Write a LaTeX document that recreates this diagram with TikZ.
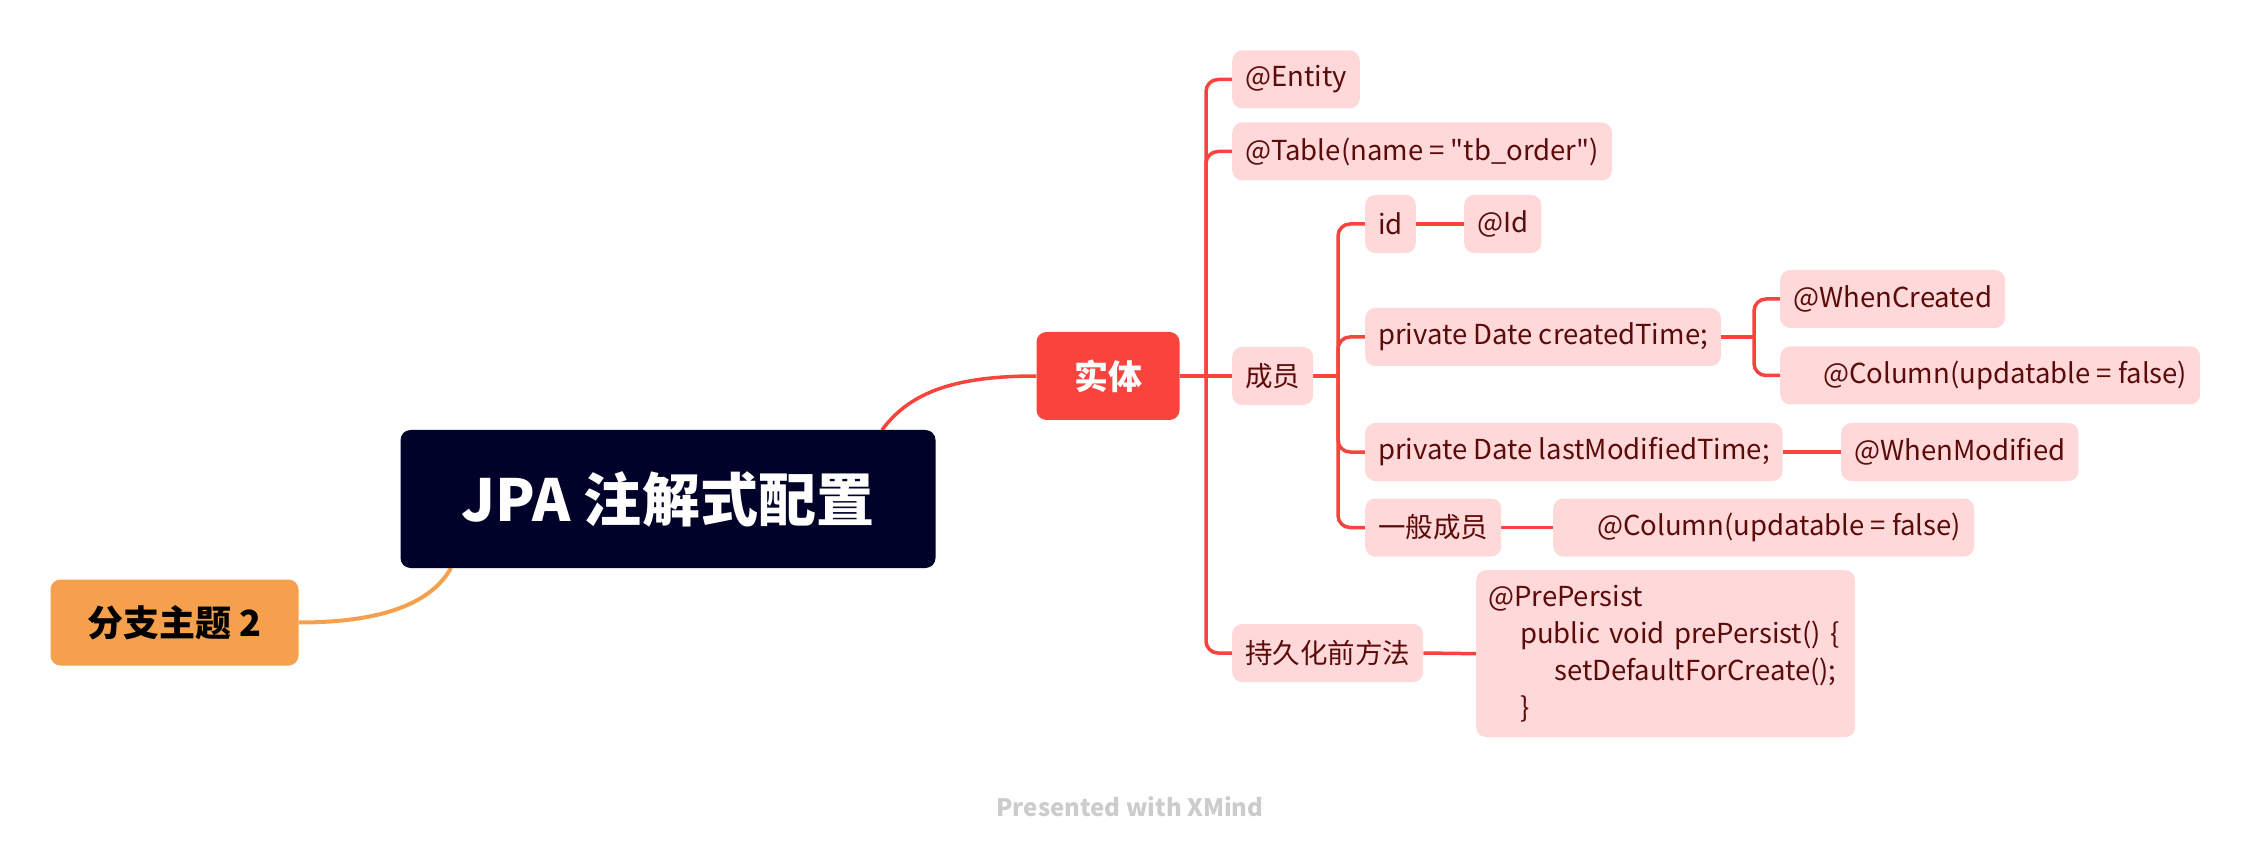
\documentclass[tikz,border=0pt]{standalone}
\usepackage{fontspec}
\setmainfont{Noto Sans CJK SC}[Ligatures=TeXOff]
\usepackage{tikz}
\usetikzlibrary{backgrounds}
\definecolor{navy}{HTML}{000229}
\definecolor{redtopic}{HTML}{F9443E}
\definecolor{orangetopic}{HTML}{F5A04C}
\definecolor{pinkbg}{HTML}{FFD9D9}
\definecolor{darkred}{HTML}{5C0B0B}
\definecolor{marktext}{HTML}{CCCCCC}

\begin{document}
\begin{tikzpicture}[x=1pt,y=-1pt,join=round,
        conn/.style={draw=redtopic,line width=3.5pt},
        subtopic/.style={fill=pinkbg,text=darkred,rounded corners=10pt,inner xsep=13pt,inner ysep=0pt,
                minimum height=58pt,anchor=west,font=\fontsize{27.5}{32}\selectfont}]
        \useasboundingbox (0,0) rectangle (2260,858);
        \node[fill=navy,text=white,rounded corners=10pt,minimum width=535pt,minimum height=138pt,
                font=\fontsize{58}{64}\selectfont\bfseries] (main) at (668,499) {JPA 注解式配置};
        \node[fill=orangetopic,text=black,rounded corners=10pt,minimum width=248pt,minimum height=86pt,
                font=\fontsize{36}{40}\selectfont\bfseries] (branch2) at (174.5,622.5) {分支主题 2};
        \node[fill=redtopic,text=white,rounded corners=10pt,minimum width=143pt,minimum height=88pt,
                font=\fontsize{34}{40}\selectfont\bfseries] (shiti) at (1108,376) {实体};
        \node[subtopic] (entity) at (1232,79.5) {@Entity};
        \node[subtopic] (table) at (1232,151.5) {@Table(name = "tb\_order")};
        \node[subtopic] (chengyuan) at (1232,376) {成员};
        \node[subtopic] (chijiu) at (1232,653) {持久化前方法};
        \node[subtopic] (id) at (1365,224) {id};
        \node[subtopic] (idanno) at (1464,224) {@Id};
        \node[subtopic] (created) at (1365,337) {private Date createdTime;};
        \node[subtopic] (whencreated) at (1780,299) {@WhenCreated};
        \node[subtopic] (column1) at (1780,375.5) {\hspace*{30pt}@Column(updatable = false)};
        \node[subtopic] (lastmod) at (1365,452) {private Date lastModifiedTime;};
        \node[subtopic] (whenmod) at (1841,452) {@WhenModified};
        \node[subtopic] (yiban) at (1365,527.5) {一般成员};
        \node[subtopic] (column2) at (1553,527.5) {\hspace*{31pt}@Column(updatable = false)};
        \node[subtopic,anchor=north west,minimum height=167pt,text width=355pt,inner xsep=12pt,align=left,
                font=\fontsize{27.5}{37}\selectfont] (prepersist) at (1476,570)
                {@PrePersist\\\hspace*{32pt}public void prePersist() \{\\\hspace*{66pt}setDefaultForCreate();\\\hspace*{32pt}\}};
        \node[text=marktext,font=\fontsize{24}{30}\selectfont\bfseries] (mark) at (1130,807) {Presented with XMind};
        \coordinate (t1) at (1206,376);
        \coordinate (t2) at (1338,376);
        \coordinate (t3) at (1754,337);
        \begin{pgfonlayer}{background}
        \draw[draw=orangetopic,line width=4pt] (451,568) .. controls (432,602) and (385,622.5) .. (branch2.east);
        \draw[conn] (882,430) .. controls (910,392) and (955,376) .. (shiti.west);
        \draw[conn] (shiti.east) -- (chengyuan.west);
        \draw[conn,rounded corners=12pt] (t1) |- (entity.west);
        \draw[conn,rounded corners=12pt] (t1) |- (table.west);
        \draw[conn,rounded corners=12pt] (t1) |- (chijiu.west);
        \draw[conn] (chengyuan.east) -- (t2);
        \draw[conn,rounded corners=12pt] (t2) |- (id.west);
        \draw[conn,rounded corners=12pt] (t2) |- (created.west);
        \draw[conn,rounded corners=12pt] (t2) |- (lastmod.west);
        \draw[conn,rounded corners=12pt] (t2) |- (yiban.west);
        \draw[conn] (id.east) -- (idanno.west);
        \draw[conn] (created.east) -- (t3);
        \draw[conn,rounded corners=12pt] (t3) |- (whencreated.west);
        \draw[conn,rounded corners=12pt] (t3) |- (column1.west);
        \draw[conn] (lastmod.east) -- (whenmod.west);
        \draw[conn] (yiban.east) -- (column2.west);
        \draw[conn] (chijiu.east) -- (prepersist.west);
        \end{pgfonlayer}
\end{tikzpicture}
\end{document}
